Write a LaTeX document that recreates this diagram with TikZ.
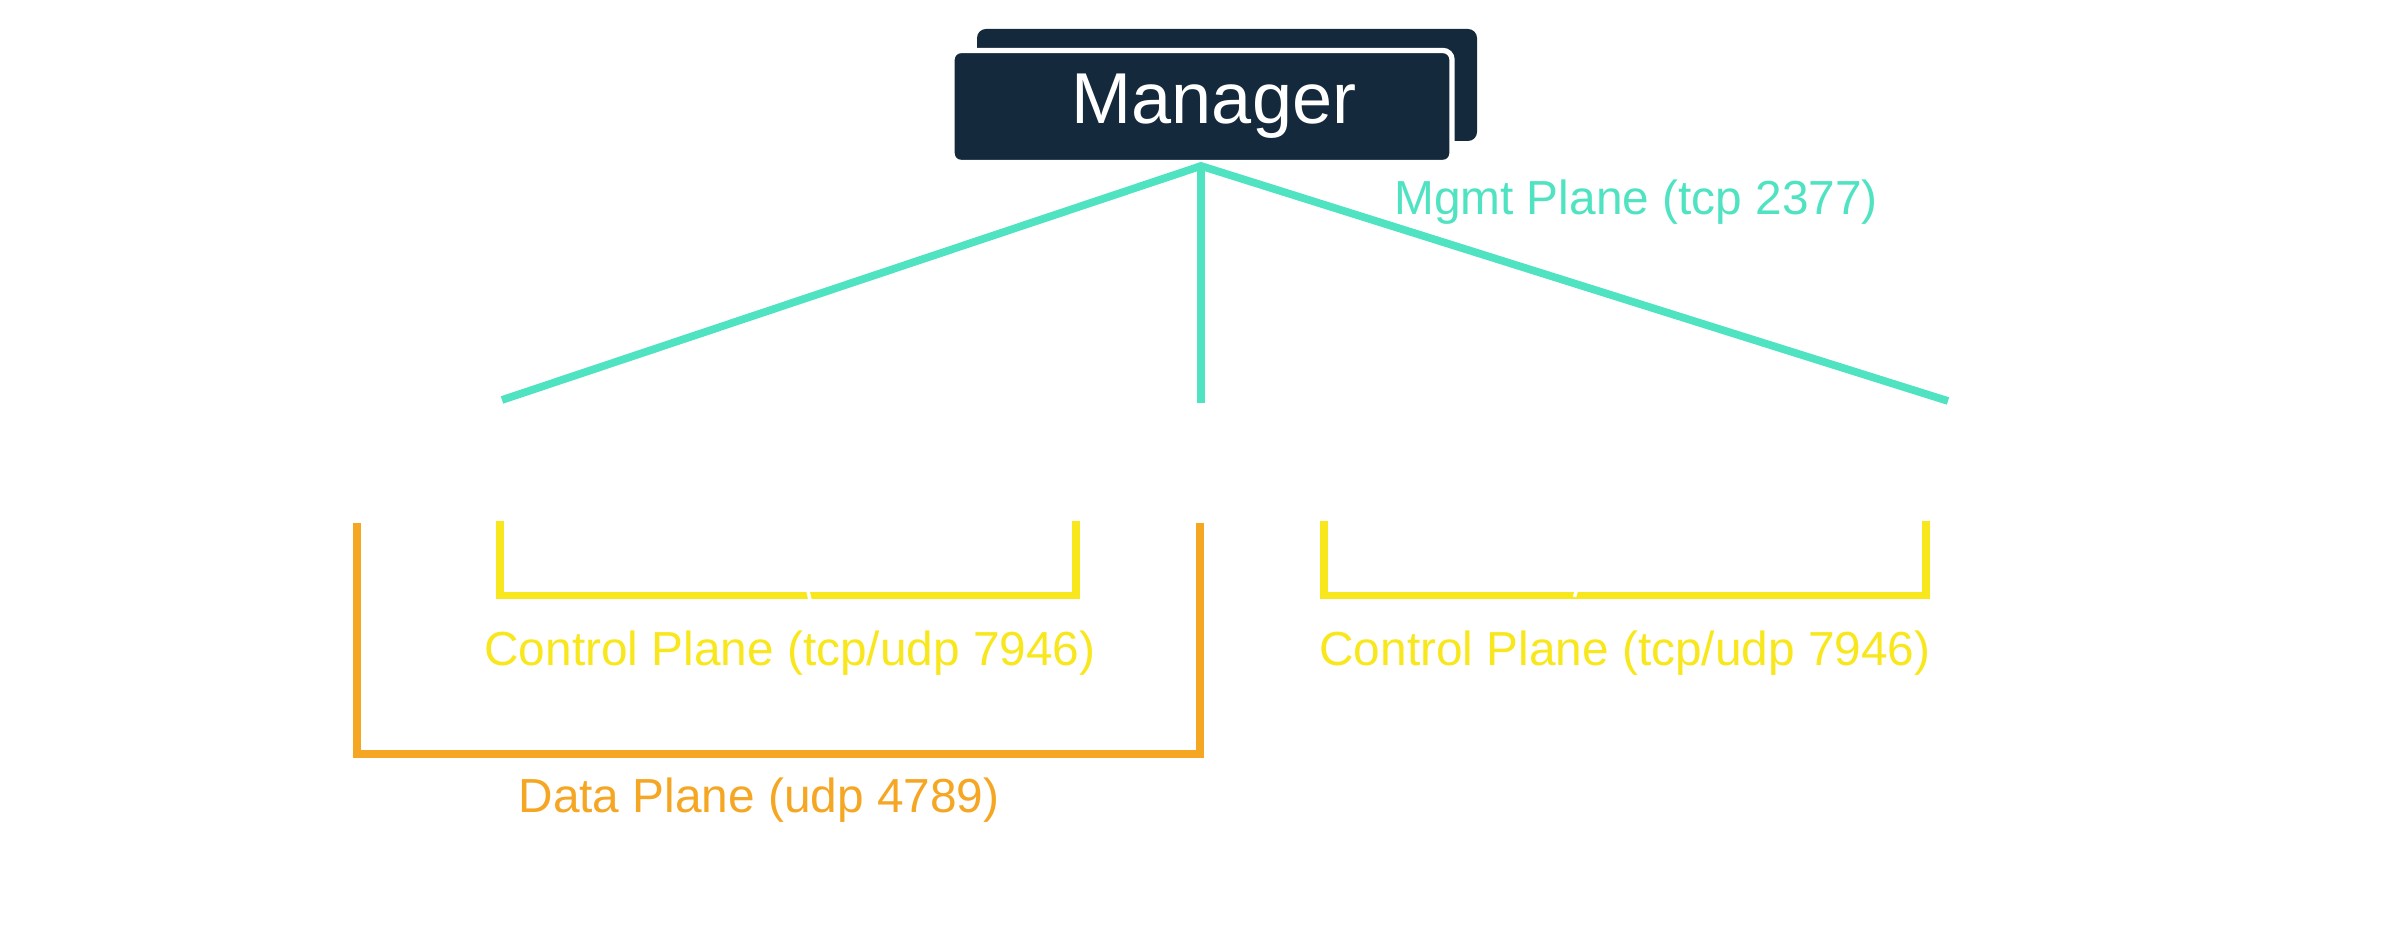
\documentclass[tikz,border=0pt]{standalone}
\usepackage{fontspec}
\setmainfont{Liberation Sans}
\definecolor{navy}{HTML}{142A3C}
\definecolor{mgmtteal}{HTML}{50E3C2}
\definecolor{ctrlyellow}{HTML}{F8E71C}
\definecolor{dataorange}{HTML}{F5A623}

\begin{document}
\begin{tikzpicture}[
    % Style for the dark manager boxes
    mgrbox/.style={rectangle, fill=navy, rounded corners=0.09cm, minimum width=5cm, minimum height=1.12cm, inner sep=0pt},
    % Styles for the three planes
    mgmt line/.style={mgmtteal, line width=2.2pt},
    ctrl line/.style={ctrlyellow, line width=2.2pt},
    data line/.style={dataorange, line width=2.2pt},
    plane label/.style={font=\fontsize{13.6}{16}\selectfont, inner sep=0pt}
]
    \useasboundingbox (0,0) rectangle (23.84,9.36);

    % --- 1. Manager Boxes ---
    \node[mgrbox] (mgrback) at (12.27,8.51) {};
    \node[mgrbox, draw=white, line width=1.5pt, text=white, font=\fontsize{20.5}{24}\selectfont] (mgr) at (12.02,8.295) {\hspace*{0.24cm}\raisebox{-0.03cm}{Manager}};

    % --- 2. Define Coordinates ---
    \coordinate (apex) at (12.01,7.70);
    \coordinate (left) at (5.02,5.36);
    \coordinate (mid) at (12.01,5.33);
    \coordinate (right) at (19.48,5.35);

    \coordinate (ctrlAl) at (5.00,4.15);
    \coordinate (ctrlAr) at (10.76,4.15);
    \coordinate (ctrlBl) at (13.24,4.15);
    \coordinate (ctrlBr) at (19.26,4.15);

    \coordinate (datal) at (3.57,4.13);
    \coordinate (datar) at (12.00,4.13);

    % --- 3. Mgmt Plane ---
    \draw[mgmt line] (left) -- (apex) -- (right);
    \draw[mgmt line] (apex) -- (mid);

    % --- 4. Control and Data Plane Brackets ---
    \draw[data line] (datal) -- ++(0,-2.31) -| (datar);
    \draw[ctrl line] (ctrlAl) -- ++(0,-0.745) -| (ctrlAr);
    \draw[ctrl line] (ctrlBl) -- ++(0,-0.745) -| (ctrlBr);

    % small breaks
    \draw[white, line width=1pt] (8.07,3.49) -- (8.11,3.32);
    \draw[white, line width=1pt] (15.765,3.46) -- (15.745,3.39);

    % --- 5. Labels ---
    \node[plane label, text=mgmtteal] (mgmtlbl) at (16.36,7.34) {Mgmt Plane (tcp 2377)};
    \node[plane label, text=ctrlyellow] (ctrlAlbl) at (7.90,2.83) {Control Plane (tcp/udp 7946)};
    \node[plane label, text=ctrlyellow] (ctrlBlbl) at (16.25,2.83) {Control Plane (tcp/udp 7946)};
    \node[plane label, text=dataorange] (datalbl) at (7.59,1.36) {Data Plane (udp 4789)};

\end{tikzpicture}
\end{document}
